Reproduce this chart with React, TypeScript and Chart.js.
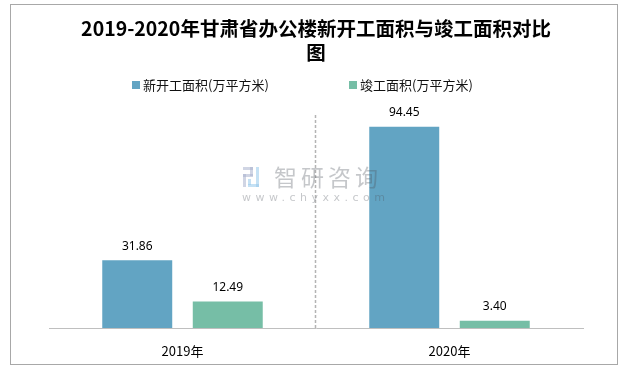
import React, { useEffect, useRef } from "react";
import { Chart, registerables } from "chart.js";

Chart.register(...registerables);

const categories = ["2019年", "2020年"];
const newStartValues = [31.86, 94.45];
const completedValues = [12.49, 3.4];
const seriesNames = ["新开工面积(万平方米)", "竣工面积(万平方米)"];
const titleLines = ["2019-2020年甘肃省办公楼新开工面积与竣工面积对比", "图"];
const watermarkTitle = "智研咨询";
const watermarkUrl = "www.chyxx.com";

const BLUE = "#62a4c3";
const GREEN = "#76bea6";
const CJK = '"Noto Sans CJK SC", "Noto Sans", sans-serif';

const valueLabels = {
  id: "valueLabels",
  afterDatasetsDraw(chart: any) {
    const ctx = chart.ctx;
    ctx.save();
    ctx.font = '12px "Noto Sans", "Noto Sans CJK SC", sans-serif';
    ctx.fillStyle = "#000";
    ctx.textAlign = "center";
    ctx.textBaseline = "middle";
    chart.data.datasets.forEach((ds: any, di: number) => {
      const meta = chart.getDatasetMeta(di);
      meta.data.forEach((el: any, i: number) => {
        ctx.fillText(Number(ds.data[i]).toFixed(2), el.x, el.y - 14);
      });
    });
    ctx.restore();
  },
};

const divider = {
  id: "divider",
  beforeDatasetsDraw(chart: any) {
    const x = chart.scales.x;
    const y = chart.scales.y;
    const ctx = chart.ctx;
    const px = (x.getPixelForValue(0) + x.getPixelForValue(1)) / 2;
    ctx.save();
    ctx.strokeStyle = "#b4b4b4";
    ctx.lineWidth = 1.5;
    ctx.setLineDash([3, 2]);
    ctx.beginPath();
    ctx.moveTo(Math.round(px) - 0.5, y.getPixelForValue(100));
    ctx.lineTo(Math.round(px) - 0.5, y.getPixelForValue(0));
    ctx.stroke();
    ctx.restore();
  },
};

const watermark = {
  id: "watermark",
  afterDatasetsDraw(chart: any) {
    const ctx = chart.ctx;
    ctx.save();
    // logo
    ctx.fillStyle = "rgba(170,178,205,0.55)";
    ctx.fillRect(243, 167, 10, 3);
    ctx.fillRect(250, 167, 3, 9);
    ctx.fillRect(243, 174, 10, 3);
    ctx.fillRect(243, 174, 3, 13);
    ctx.fillStyle = "rgba(150,200,235,0.55)";
    ctx.fillRect(256, 167, 3, 20);
    ctx.fillRect(248, 184, 11, 3);
    ctx.fillRect(248, 179, 3, 6);
    ctx.fillStyle = "rgba(80,85,95,0.33)";
    ctx.font = '23px "Noto Sans CJK SC", sans-serif';
    ctx.textBaseline = "middle";
    ctx.textAlign = "left";
    (ctx as any).letterSpacing = "4px";
    ctx.fillText(watermarkTitle, 274, 177);
    ctx.font = '11px "DejaVu Sans", sans-serif';
    (ctx as any).letterSpacing = "4.5px";
    ctx.fillText(watermarkUrl, 242, 198);
    ctx.restore();
  },
};

export default function App() {
  const ref = useRef<HTMLCanvasElement | null>(null);

  useEffect(() => {
    document.body.style.margin = "0";
    const chart = new Chart(ref.current as HTMLCanvasElement, {
      type: "bar",
      data: {
        labels: categories,
        datasets: [
          {
            label: seriesNames[0],
            data: newStartValues,
            backgroundColor: BLUE,
            categoryPercentage: 0.678,
            barPercentage: 0.773,
          },
          {
            label: seriesNames[1],
            data: completedValues,
            backgroundColor: GREEN,
            categoryPercentage: 0.678,
            barPercentage: 0.773,
          },
        ],
      },
      options: {
        responsive: false,
        animation: false,
        layout: { padding: { left: 49, right: 41, top: 0, bottom: -4 } },
        plugins: {
          legend: { display: false },
          tooltip: { enabled: false },
          title: {
            display: true,
            text: titleLines,
            color: "#000",
            font: { family: CJK, size: 19.5, weight: "bold", lineHeight: "24px" },
            padding: { top: 16.5, bottom: 50.5 },
          },
        },
        scales: {
          x: {
            grid: { display: false, drawTicks: false },
            border: { display: true, color: "#bfbfbf", width: 1 },
            ticks: { color: "#000", padding: 15.2, font: { family: CJK, size: 13 } },
          },
          y: { display: false, min: 0, max: 100 },
        },
      },
      plugins: [divider, valueLabels, watermark],
    });
    return () => chart.destroy();
  }, []);

  const legendText: React.CSSProperties = {
    position: "absolute",
    top: 76,
    height: 18,
    lineHeight: "18px",
    fontFamily: CJK,
    fontSize: 13,
    color: "#111",
    whiteSpace: "nowrap",
  };
  const box = (left: number, color: string): React.CSSProperties => ({
    position: "absolute",
    left,
    top: 81,
    width: 8,
    height: 8,
    background: color,
  });

  return (
    <div style={{ position: "absolute", left: 0, top: 0, width: 624, height: 370, background: "#fff" }}>
      <canvas ref={ref} width={624} height={370} style={{ position: "absolute", left: 0, top: 0 }} />
      <div
        style={{
          position: "absolute",
          left: 10,
          top: 4,
          width: 608,
          height: 361,
          boxSizing: "border-box",
          border: "1px solid #a8a8a8",
          pointerEvents: "none",
        }}
      />
      <div style={box(132, BLUE)} />
      <div style={{ ...legendText, left: 143 }}>{seriesNames[0]}</div>
      <div style={box(349, GREEN)} />
      <div style={{ ...legendText, left: 360 }}>{seriesNames[1]}</div>
    </div>
  );
}
